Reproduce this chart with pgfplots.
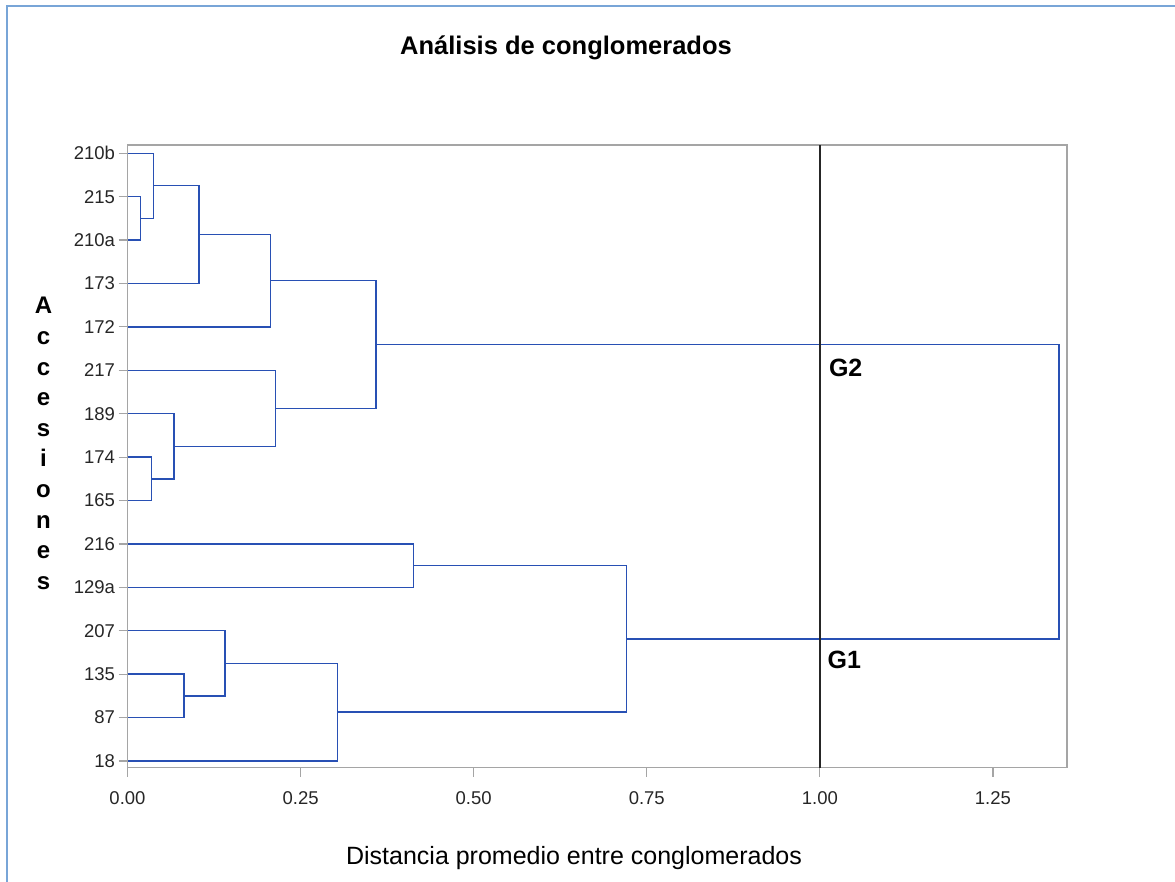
\documentclass[border=0pt]{standalone}
\usepackage{pgfplots}
\pgfplotsset{compat=1.18}
\usepackage{fontspec}
\setmainfont{Liberation Sans}
\definecolor{dblue}{RGB}{40,80,180}
\definecolor{frameblue}{RGB}{120,165,215}
\definecolor{axgray}{RGB}{165,165,165}
\begin{document}
\begin{tikzpicture}
\useasboundingbox (0pt,0pt) rectangle (1175pt,882pt);
\draw[frameblue, line width=1.5pt] (7pt,0pt) -- (7pt,876pt) -- (1175pt,876pt);
\begin{axis}[
  at={(127.5pt,114.3pt)}, anchor=south west,
  width=939.5pt, height=622.7pt, scale only axis,
  xmin=0, xmax=1.357, ymin=0.846, ymax=15.19,
  xtick={0,0.25,0.5,0.75,1,1.25},
  xticklabel style={/pgf/number format/fixed,/pgf/number format/fixed zerofill,/pgf/number format/precision=2, yshift=-11pt},
  /pgf/number format/assume math mode=true,
  ytick={1,...,15},
  yticklabels={18,87,135,207,129a,216,165,174,189,217,172,173,210a,215,210b},
  tick align=outside, major tick length=9pt,
  tick style={axgray, line width=1.2pt},
  axis line style={axgray, line width=1.3pt},
  ticklabel style={font=\fontsize{18.5}{20}\selectfont, text=black!85},
  xtick pos=bottom, ytick pos=left,
  clip=false,
  dend/.style={dblue, line width=1.4pt, no markers, line join=miter},
]
\addplot[dend] coordinates {(0,14) (0.0185,14) (0.0185,13) (0,13)};
\addplot[dend] coordinates {(0,15) (0.0373,15) (0.0373,13.5) (0.0185,13.5)};
\addplot[dend] coordinates {(0.0373,14.25) (0.103,14.25) (0.103,12) (0,12)};
\addplot[dend] coordinates {(0.103,13.125) (0.2068,13.125) (0.2068,11) (0,11)};
\addplot[dend] coordinates {(0,8) (0.0349,8) (0.0349,7) (0,7)};
\addplot[dend] coordinates {(0,9) (0.0671,9) (0.0671,7.5) (0.0349,7.5)};
\addplot[dend] coordinates {(0,10) (0.2135,10) (0.2135,8.25) (0.0671,8.25)};
\addplot[dend] coordinates {(0.2068,12.0625) (0.359,12.0625) (0.359,9.125) (0.2135,9.125)};
\addplot[dend] coordinates {(0,6) (0.413,6) (0.413,5) (0,5)};
\addplot[dend] coordinates {(0,3) (0.0816,3) (0.0816,2) (0,2)};
\addplot[dend] coordinates {(0,4) (0.1408,4) (0.1408,2.5) (0.0816,2.5)};
\addplot[dend] coordinates {(0.1408,3.25) (0.303,3.25) (0.303,1) (0,1)};
\addplot[dend] coordinates {(0.413,5.5) (0.721,5.5) (0.721,2.125) (0.303,2.125)};
\addplot[dend] coordinates {(0.359,10.59375) (1.3456,10.59375) (1.3456,3.8125) (0.721,3.8125)};
\addplot[black!85, line width=1.4pt, no markers] coordinates {(1,0.846) (1,15.19)};
\node[anchor=west, inner sep=0pt, font=\fontsize{25}{27}\selectfont\bfseries] at (axis cs:1.013,10.05) {G2};
\node[anchor=west, inner sep=0pt, font=\fontsize{25}{27}\selectfont\bfseries] at (axis cs:1.011,3.32) {G1};
\end{axis}
\node[anchor=base, inner sep=0pt, font=\fontsize{25.5}{27}\selectfont\bfseries] at (566pt,827pt) {Análisis de conglomerados};
\node[anchor=base, inner sep=0pt, font=\fontsize{25}{27}\selectfont] at (574pt,17pt) {Distancia promedio entre conglomerados};
\foreach \c [count=\i] in {A,c,c,e,s,i,o,n,e,s}{
  \pgfmathsetmacro{\yy}{882-314-(\i-1)*30.6}
  \node[anchor=base, inner sep=0pt, font=\fontsize{24}{25}\selectfont\bfseries] at (43.5pt,\yy pt) {\c};
}
\end{tikzpicture}
\end{document}
